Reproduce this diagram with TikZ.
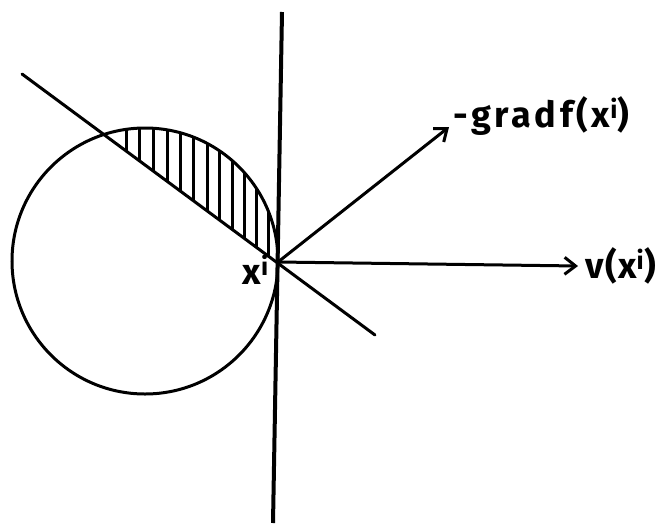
\documentclass[tikz,border=0pt]{standalone}
\usepackage{fontspec}
\setmainfont{Fira Sans}
\usetikzlibrary{arrows.meta}
\begin{document}
\begin{tikzpicture}[x=1pt,y=-1pt,
  pen/.style={line width=3pt,line cap=round},
  hatch/.style={line width=3pt},
  barb/.style={-{Straight Barb[length=11pt,width=17pt,line width=3pt]}},
  lab/.style={font=\fontsize{36}{36}\selectfont\bfseries,inner sep=0pt}]
\useasboundingbox (0,0) rectangle (662,523);
% key points
\coordinate (X) at (278,262);
\coordinate (C) at (145,261);
\coordinate (A) at (22,74);
\coordinate (B) at (375,335);
\coordinate (T) at (282,12);
\coordinate (Bt) at (273,523);
\coordinate (G) at (449,127);
\coordinate (V) at (578,266);
% hatching
\begin{scope}
  \clip (C) circle[radius=133];
  \clip (0,57.7) -- (300,279.4) -- (300,0) -- (0,0) -- cycle;
  \foreach \xx in {126,139,153,167,180,193,207,219,232,244,256,268}
    \draw[hatch] (\xx,110) -- (\xx,280);
\end{scope}
% circle and lines
\draw[pen] (C) circle[radius=133];
\draw[line width=4pt] (T) -- (Bt);
\draw[pen] (A) -- (B);
% arrows
\draw[pen,barb] (X) -- (G);
\draw[pen,barb] (X) -- (V);
% labels
\node[lab,anchor=south west] (gl) at (453,136) {\addfontfeature{LetterSpace=10}-gradf(x\textsuperscript{i})};
\node[lab,anchor=west] (vl) at (585,266) {\addfontfeature{LetterSpace=4}v(x\textsuperscript{i})};
\node[lab,anchor=north east] (xl) at (269,255) {x\textsuperscript{i}};
\end{tikzpicture}
\end{document}
